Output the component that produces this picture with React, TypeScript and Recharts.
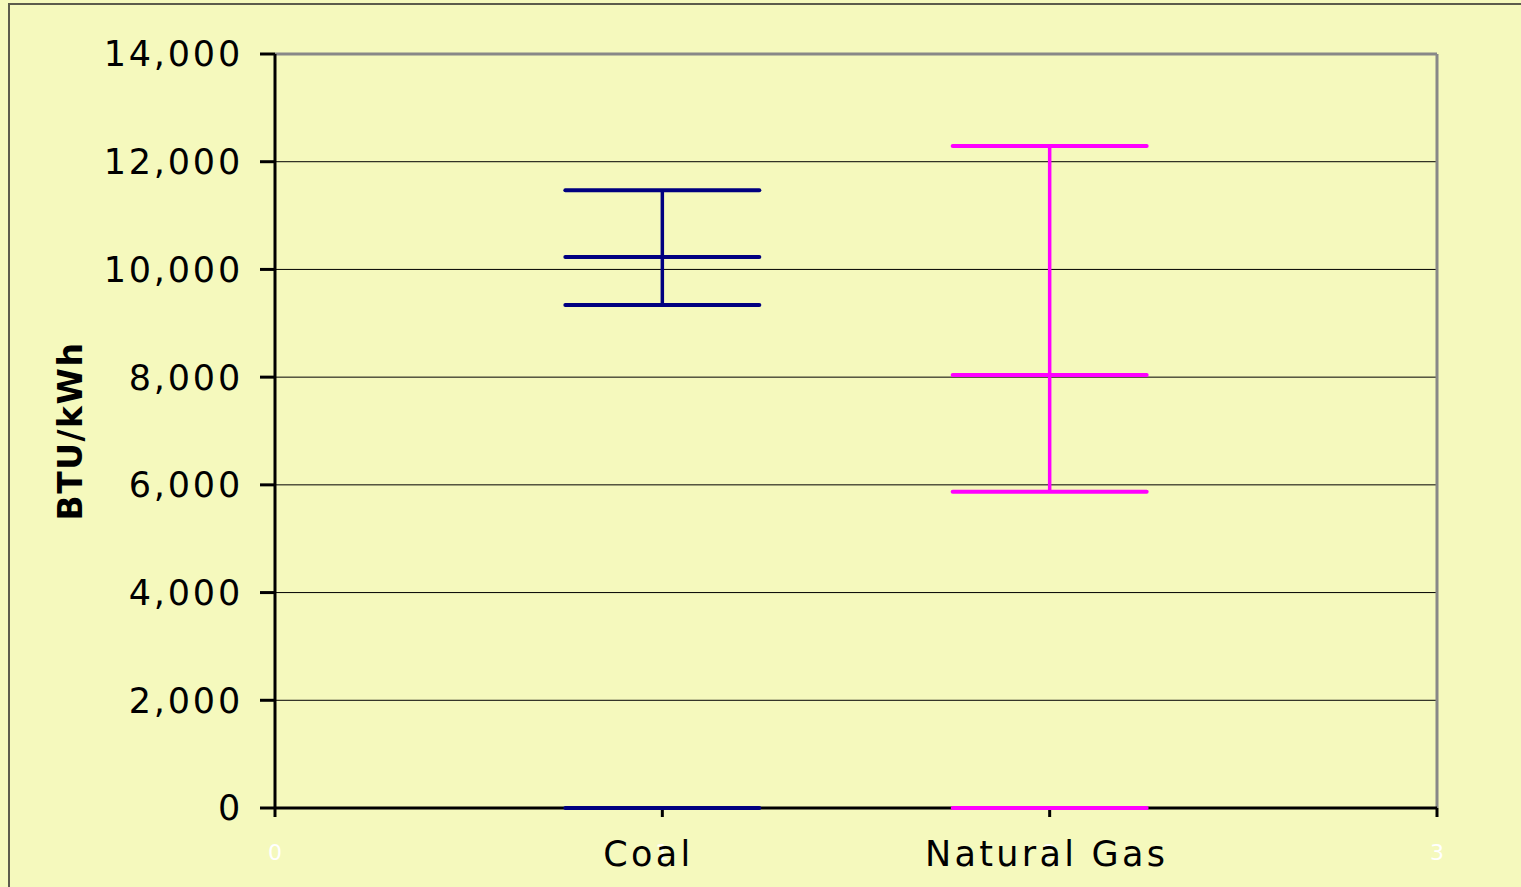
import React from 'react';
import {
  ComposedChart,
  Scatter,
  ErrorBar,
  XAxis,
  YAxis,
  CartesianGrid,
  ReferenceLine,
} from 'recharts';

const categories = ['Coal', 'Natural Gas'];
const positions = [1, 2];
const highValues = [11470, 12290];
const midValues = [10230, 8040];
const lowValues = [9340, 5870];
const baseValues = [0, 0];
const colors = ['#000080', '#FF00FF'];

const xTicks = [0, 1, 2, 3];
const yTicks = [0, 2000, 4000, 6000, 8000, 10000, 12000, 14000];

const FONT = '"DejaVu Sans", Verdana, sans-serif';
const BG = '#F5F9BD';

const fmt = (v: number) => v.toLocaleString('en-US');

// horizontal cap drawn around the point
const capShape = (color: string) => (props: any) => {
  const { cx, cy } = props;
  if (cx == null || cy == null) return <g />;
  return (
    <line
      x1={cx - 97}
      x2={cx + 97}
      y1={cy}
      y2={cy}
      stroke={color}
      strokeWidth={4}
      strokeLinecap="round"
    />
  );
};

const XTick = (props: any) => {
  const { x, y, payload } = props;
  const idx = positions.indexOf(payload.value);
  return (
    <g>
      <text x={x} y={y} dy={41} textAnchor="middle" fill="#FFFFFF" fontSize={22} fontFamily={FONT}>
        {payload.value}
      </text>
      {idx >= 0 && (
        <text
          x={x + (idx === 0 ? -14 : -3)}
          y={y}
          dy={47}
          textAnchor="middle"
          fill="#000"
          fontSize={35}
          letterSpacing={3.3}
          fontFamily={FONT}
        >
          {categories[idx]}
        </text>
      )}
    </g>
  );
};

const YLabel = () => (
  <text
    x={70}
    y={431}
    transform="rotate(-90, 70, 431)"
    textAnchor="middle"
    dominantBaseline="central"
    fill="#000"
    fontSize={33}
    fontWeight="bold"
    letterSpacing={1.5}
    fontFamily={FONT}
  >
    BTU/kWh
  </text>
);

export default function App() {
  const series = categories.map((name, i) => ({
    name,
    color: colors[i],
    mid: [{ x: positions[i], v: midValues[i], err: [midValues[i] - lowValues[i], highValues[i] - midValues[i]] }],
    caps: [
      { x: positions[i], v: highValues[i] },
      { x: positions[i], v: lowValues[i] },
      { x: positions[i], v: baseValues[i] },
    ],
  }));

  return (
    <div
      style={{
        position: 'absolute',
        left: 0,
        top: 0,
        width: 1521,
        height: 887,
        background: BG,
        overflow: 'hidden',
      }}
    >
      <div
        style={{
          position: 'absolute',
          left: 8,
          top: 3,
          width: 1700,
          height: 1000,
          border: '2px solid #5c5c4c',
        }}
      />
      <div style={{ position: 'absolute', left: 0, top: 0 }}>
        <ComposedChart width={1521} height={887} margin={{ top: 54, right: 84, bottom: 49, left: 0 }}>
          <CartesianGrid vertical={false} stroke="#000" strokeWidth={1} />
          <XAxis
            type="number"
            dataKey="x"
            height={30}
            domain={[0, 3]}
            ticks={xTicks}
            allowDataOverflow
            axisLine={{ stroke: '#000', strokeWidth: 3 }}
            tickLine={{ stroke: '#000', strokeWidth: 3 }}
            tickSize={9}
            tick={<XTick />}
            interval={0}
          />
          <YAxis
            type="number"
            dataKey="v"
            width={275}
            domain={[0, 14000]}
            ticks={yTicks}
            interval={0}
            tickFormatter={fmt}
            axisLine={{ stroke: '#000', strokeWidth: 3 }}
            tickLine={{ stroke: '#000', strokeWidth: 3 }}
            tickSize={15}
            tickMargin={17}
            tick={{ fill: '#000', fontSize: 35, fontFamily: FONT, letterSpacing: 2.8 }}
            label={<YLabel />}
          />
          <ReferenceLine y={14000} stroke="#888" strokeWidth={3} />
          <ReferenceLine x={3} stroke="#888" strokeWidth={3} />
          {series.map((s) => (
            <Scatter
              key={s.name + '-caps'}
              name={s.name}
              data={s.caps}
              dataKey="v"
              shape={capShape(s.color)}
              isAnimationActive={false}
              legendType="none"
            />
          ))}
          {series.map((s) => (
            <Scatter
              key={s.name + '-mid'}
              name={s.name}
              data={s.mid}
              dataKey="v"
              shape={capShape(s.color)}
              isAnimationActive={false}
              legendType="none"
            >
              <ErrorBar dataKey="err" direction="y" width={0} stroke={s.color} strokeWidth={3.5} isAnimationActive={false} />
            </Scatter>
          ))}
        </ComposedChart>
      </div>
    </div>
  );
}
